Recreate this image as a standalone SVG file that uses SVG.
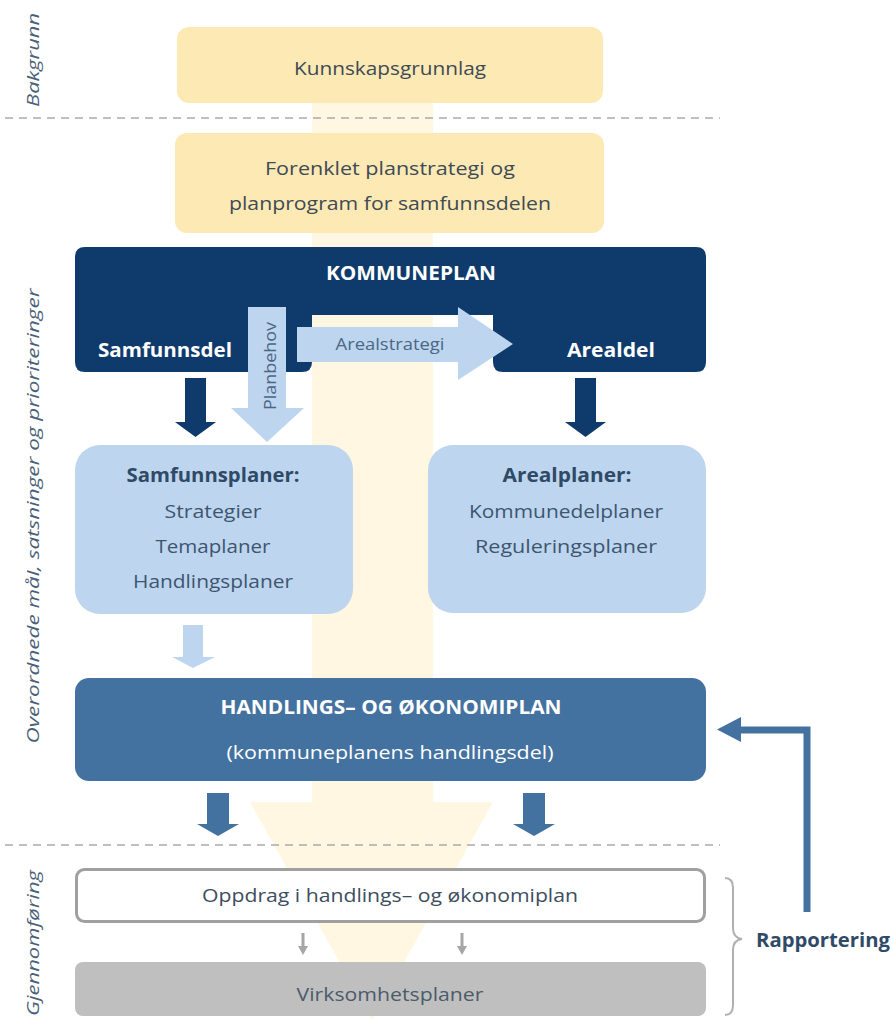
<svg xmlns="http://www.w3.org/2000/svg" width="892" height="1019" viewBox="0 0 892 1019">
<defs>
<style>
.t{font-family:"Open Sans","Liberation Sans",sans-serif;font-size:19px;text-anchor:middle}
.b{font-weight:bold}
.dk{fill:#3F4A55}
.bl{fill:#2F4A66}
.mb{fill:#3D5670}
.wh{fill:#FFFFFF}
.sm{font-size:16px;fill:#4B6785}
.side{font-family:"Open Sans","DejaVu Sans",sans-serif;font-style:italic;font-size:17px;fill:#4A6078}
.dash{stroke:#ABABAB;stroke-width:1.5;stroke-dasharray:8 6;fill:none}
.yel{fill:#FCE9B4}
.lb{fill:#BDD5EE}
.navy{fill:#0F3B6C}
.mid{fill:#4472A0}
.gr{fill:#A6A6A6}
</style>
</defs>
<rect width="892" height="1019" fill="#FFFFFF"/>
<g id="band">
<path d="M312,90 H433 V802 H493 L372,1020 L250,802 H312 Z" fill="#FFF7E1"/>
</g>
<g id="separators">
<line class="dash" x1="5" y1="118" x2="720" y2="118"/>
<line class="dash" x1="5" y1="845" x2="720" y2="845"/>
</g>
<g id="side-labels">
<text class="side" transform="translate(39,60) rotate(-90)" text-anchor="middle" textLength="94" lengthAdjust="spacingAndGlyphs">Bakgrunn</text>
<text class="side" transform="translate(39,516) rotate(-90)" text-anchor="middle" textLength="455" lengthAdjust="spacingAndGlyphs">Overordnede mål, satsninger og prioriteringer</text>
<text class="side" transform="translate(39,1016) rotate(-90)" text-anchor="start" textLength="146" lengthAdjust="spacingAndGlyphs">Gjennomføring</text>
</g>
<g id="kunnskapsgrunnlag">
<rect class="yel" x="177" y="27" width="426" height="76" rx="12"/>
<text class="t dk" x="390" y="75" textLength="192" lengthAdjust="spacingAndGlyphs">Kunnskapsgrunnlag</text>
</g>
<g id="planstrategi">
<rect class="yel" x="175" y="133" width="429" height="100" rx="12"/>
<text class="t dk" x="390" y="175" textLength="250" lengthAdjust="spacingAndGlyphs">Forenklet planstrategi og</text>
<text class="t dk" x="390" y="210" textLength="322" lengthAdjust="spacingAndGlyphs">planprogram for samfunnsdelen</text>
</g>
<g id="kommuneplan">
<path class="navy" d="M85,247 H696 Q706,247 706,257 V362 Q706,372 696,372 H503 Q493,372 493,362 V315 H312 V362 Q312,372 302,372 H85 Q75,372 75,362 V257 Q75,247 85,247 Z"/>
<text class="t b wh" x="411" y="280" textLength="170" lengthAdjust="spacingAndGlyphs">KOMMUNEPLAN</text>
<text class="t b wh" x="165" y="357" textLength="134" lengthAdjust="spacingAndGlyphs">Samfunnsdel</text>
<text class="t b wh" x="611" y="357" textLength="88" lengthAdjust="spacingAndGlyphs">Arealdel</text>
</g>
<g id="connectors">
<path class="lb" d="M248,307 H286 V408 H304 L267,442 L231,408 H248 Z"/>
<text class="t sm" transform="translate(276,366) rotate(-90)" textLength="88" lengthAdjust="spacingAndGlyphs">Planbehov</text>
<path class="lb" d="M297,327 H458 V307 L513,344 L458,380 V362 H297 Z"/>
<text class="t sm" x="390" y="350" textLength="109" lengthAdjust="spacingAndGlyphs">Arealstrategi</text>
<path class="navy" d="M185,378 H206 V422 H216 L195.5,437 L175,422 H185 Z"/>
<path class="navy" d="M575,378 H596 V422 H606 L585.5,437 L565,422 H575 Z"/>
<path class="lb" d="M183,625 H203 V657 H215 L193,668 L172,657 H183 Z"/>
<path class="mid" d="M207,793 H229 V824 H239 L218,836 L197,824 H207 Z"/>
<path class="mid" d="M523,793 H545 V824 H555 L534,836 L513,824 H523 Z"/>
<path class="gr" d="M301.5,933 H304.5 V946 H308 L303,955 L298,946 H301.5 Z"/>
<path class="gr" d="M460.5,933 H463.5 V946 H467 L462,955 L457,946 H460.5 Z"/>
<path d="M807,912 V730 H738" fill="none" stroke="#4472A0" stroke-width="7"/>
<path class="mid" d="M741,717 L717,729.5 L741,742 Z"/>
<path d="M725,878 Q733,878 733,888 V928 Q733,938 742,939 Q733,940 733,950 V1005 Q733,1015 725,1015" fill="none" stroke="#B0B0B0" stroke-width="2"/>
</g>
<g id="samfunnsplaner">
<rect class="lb" x="75" y="445" width="278" height="169" rx="25"/>
<text class="t b bl" x="213" y="482" textLength="173" lengthAdjust="spacingAndGlyphs">Samfunnsplaner:</text>
<text class="t mb" x="213" y="518" textLength="97" lengthAdjust="spacingAndGlyphs">Strategier</text>
<text class="t mb" x="213" y="553" textLength="115" lengthAdjust="spacingAndGlyphs">Temaplaner</text>
<text class="t mb" x="213" y="588" textLength="160" lengthAdjust="spacingAndGlyphs">Handlingsplaner</text>
</g>
<g id="arealplaner">
<rect class="lb" x="428" y="445" width="278" height="168" rx="25"/>
<text class="t b bl" x="567" y="482" textLength="129" lengthAdjust="spacingAndGlyphs">Arealplaner:</text>
<text class="t mb" x="566" y="518" textLength="194" lengthAdjust="spacingAndGlyphs">Kommunedelplaner</text>
<text class="t mb" x="566" y="553" textLength="182" lengthAdjust="spacingAndGlyphs">Reguleringsplaner</text>
</g>
<g id="handlingsplan">
<rect class="mid" x="75" y="678" width="631" height="103" rx="14"/>
<text class="t b wh" x="391" y="714" textLength="341" lengthAdjust="spacingAndGlyphs">HANDLINGS– OG ØKONOMIPLAN</text>
<text class="t wh" x="390" y="759" textLength="327" lengthAdjust="spacingAndGlyphs">(kommuneplanens handlingsdel)</text>
</g>
<g id="oppdrag">
<rect x="76.5" y="869.5" width="628" height="52" rx="8" fill="#FFFFFF" stroke="#A0A0A0" stroke-width="3"/>
<text class="t" style="fill:#3D4E60" x="390" y="902" textLength="376" lengthAdjust="spacingAndGlyphs">Oppdrag i handlings– og økonomiplan</text>
</g>
<g id="virksomhetsplaner">
<rect x="75" y="962" width="631" height="54" rx="8" fill="#BFBFBF"/>
<text class="t" style="fill:#4C5B6B" x="390" y="1001" textLength="187" lengthAdjust="spacingAndGlyphs">Virksomhetsplaner</text>
</g>
<g id="rapportering">
<text class="t b bl" style="text-anchor:start" x="756" y="947" textLength="134" lengthAdjust="spacingAndGlyphs">Rapportering</text>
</g>
</svg>
